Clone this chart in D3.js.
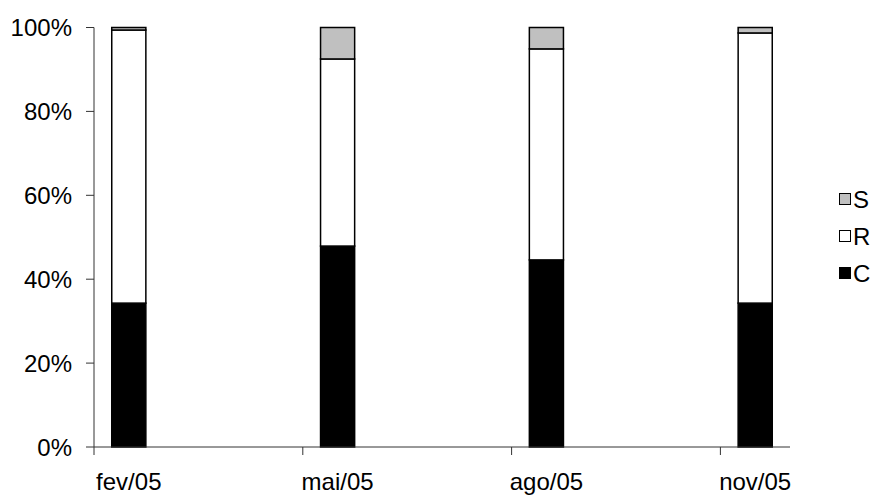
<!DOCTYPE html>
<html>
<head>
<meta charset="utf-8">
<script src="https://cdn.jsdelivr.net/npm/d3@7"></script>
<style>
  html, body { margin: 0; padding: 0; background: #fff; }
  svg text { font-family: "Liberation Sans", Arial, sans-serif; fill: #000; }
</style>
</head>
<body>
<svg id="chart" width="881" height="497"></svg>
<script>
// Months on the time axis (one slot per month, fev/05 .. nov/05)
const months = ["fev/05", "mar/05", "abr/05", "mai/05", "jun/05", "jul/05",
                "ago/05", "set/05", "out/05", "nov/05"];
// Sampled months and their shares (%)
const categories = ["fev/05", "mai/05", "ago/05", "nov/05"];
const valuesC = [34.3, 47.9, 44.6, 34.3];
const valuesR = [65.1, 44.6, 50.3, 64.4];
const valuesS = [0.6, 7.5, 5.1, 1.3];
const seriesNames = ["C", "R", "S"];
const seriesColors = ["#000000", "#ffffff", "#c0c0c0"];
const tickLabels = ["fev/05", "mai/05", "ago/05", "nov/05"];
const yTicks = [0, 20, 40, 60, 80, 100];

const svg = d3.select("#chart");
const plotLeft = 94, plotRight = 790, plotTop = 27.5, plotBottom = 447;
const fontSize = 24;

const x = d3.scaleBand().domain(months).range([plotLeft, plotRight]).paddingInner(0).paddingOuter(0);
const y = d3.scaleLinear().domain([0, 100]).range([plotBottom, plotTop]);

const rows = categories.map((c, i) => ({ cat: c, C: valuesC[i], R: valuesR[i], S: valuesS[i] }));
const stacked = d3.stack().keys(seriesNames)(rows);

const barW = x.bandwidth() * 0.49;

// Stacked bars
stacked.forEach((layer, li) => {
  svg.append("g").selectAll("rect")
    .data(layer)
    .join("rect")
    .attr("x", d => x(d.data.cat) + (x.bandwidth() - barW) / 2)
    .attr("y", d => y(d[1]))
    .attr("width", barW)
    .attr("height", d => y(d[0]) - y(d[1]))
    .attr("fill", seriesColors[li])
    .attr("stroke", "#000")
    .attr("stroke-width", 1.5);
});

// Y axis
const yAxis = svg.append("g");
yAxis.append("line")
  .attr("x1", plotLeft).attr("x2", plotLeft)
  .attr("y1", y(100)).attr("y2", plotBottom)
  .attr("stroke", "#333").attr("stroke-width", 1);
yTicks.forEach(t => {
  yAxis.append("line")
    .attr("x1", plotLeft - 8).attr("x2", plotLeft)
    .attr("y1", y(t)).attr("y2", y(t))
    .attr("stroke", "#333").attr("stroke-width", 1);
  yAxis.append("text")
    .attr("x", 72)
    .attr("y", y(t) + 8.5)
    .attr("text-anchor", "end")
    .attr("font-size", fontSize)
    .text(d3.format("d")(t) + "%");
});

// X axis
const xAxis = svg.append("g");
xAxis.append("line")
  .attr("x1", plotLeft).attr("x2", plotRight)
  .attr("y1", plotBottom).attr("y2", plotBottom)
  .attr("stroke", "#333").attr("stroke-width", 1);
tickLabels.forEach(m => {
  const xs = x(m);
  xAxis.append("line")
    .attr("x1", xs).attr("x2", xs)
    .attr("y1", plotBottom).attr("y2", plotBottom + 8)
    .attr("stroke", "#333").attr("stroke-width", 1);
  xAxis.append("text")
    .attr("x", xs + x.bandwidth() / 2)
    .attr("y", 490)
    .attr("text-anchor", "middle")
    .attr("font-size", fontSize)
    .text(m);
});

// Legend (top to bottom: S, R, C)
const legendOrder = [2, 1, 0];
const legendY = [199, 236, 273];
legendOrder.forEach((si, k) => {
  const cy = legendY[k];
  svg.append("rect")
    .attr("x", 839.5).attr("y", cy - 5.5)
    .attr("width", 11).attr("height", 11)
    .attr("fill", seriesColors[si])
    .attr("stroke", "#000").attr("stroke-width", 1);
  svg.append("text")
    .attr("x", 853)
    .attr("y", cy + 8.5)
    .attr("font-size", fontSize)
    .text(seriesNames[si]);
});
</script>
</body>
</html>
